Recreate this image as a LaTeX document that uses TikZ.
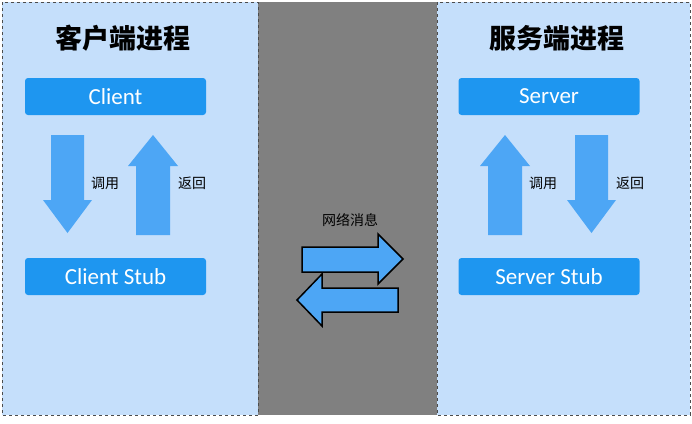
\documentclass[tikz,border=0pt]{standalone}
\usepackage{fontspec}
\setmainfont{Carlito}
\newfontfamily\cjk{Noto Sans CJK SC}
\definecolor{panel}{HTML}{C5DFFB}
\definecolor{boxblue}{HTML}{1E96F0}
\definecolor{arr}{HTML}{4DA6F5}
\definecolor{mid}{HTML}{808080}
\begin{document}
\begin{tikzpicture}[x=1pt,y=-1pt,
  panelbox/.style={fill=panel,draw=black!70,dashed,line width=0.6pt},
  procbox/.style={fill=boxblue,rounded corners=3pt,text=white,font=\fontsize{23}{26}\selectfont,minimum width=181pt,minimum height=37pt,inner sep=0pt},
  title/.style={font=\cjk\bfseries\fontsize{27}{30}\selectfont},
  lab/.style={font=\cjk\fontsize{14}{16}\selectfont},
  barrow/.style={fill=arr},
  marrow/.style={fill=arr,draw=black,line width=1.5pt,line join=miter}]
\useasboundingbox (0,0) rectangle (692,423);
\fill[white] (0,0) rectangle (692,423);
\fill[mid] (258,2) rectangle (437,415);
\draw[panelbox] (2,2) rectangle (258,415);
\draw[panelbox] (437,2) rectangle (690,415);
\node[title] (t1) at (123,38) {客户端进程};
\node[title] (t2) at (557,38) {服务端进程};
\node[procbox] (client) at (115.5,96.5) {Client};
\node[procbox] (cstub) at (115.5,276.5) {Client Stub};
\node[procbox] (server) at (549,96.5) {Server};
\node[procbox] (sstub) at (549,276.5) {Server Stub};
\fill[barrow] (51,135) -- (84,135) -- (84,200) -- (92,200) -- (67.5,233) -- (43,200) -- (51,200) -- cycle;
\fill[barrow] (136,235) -- (170,235) -- (170,166) -- (178,166) -- (153,135) -- (128,166) -- (136,166) -- cycle;
\node[lab] (l1) at (105,183) {调用};
\node[lab] (l2) at (192,183) {返回};
\fill[barrow] (488,235) -- (522,235) -- (522,166) -- (530,166) -- (505,135) -- (480,166) -- (488,166) -- cycle;
\fill[barrow] (575,135) -- (608,135) -- (608,200) -- (616,200) -- (591.5,233) -- (567,200) -- (575,200) -- cycle;
\node[lab] (l3) at (543,183) {调用};
\node[lab] (l4) at (630,183) {返回};
\node[lab] (net) at (350,220) {网络消息};
\draw[marrow] (302,247) -- (378,247) -- (378,234) -- (403,259) -- (378,284) -- (378,272) -- (302,272) -- cycle;
\draw[marrow] (398,288) -- (322,288) -- (322,274) -- (297,300) -- (322,326) -- (322,312) -- (398,312) -- cycle;
\end{tikzpicture}
\end{document}
